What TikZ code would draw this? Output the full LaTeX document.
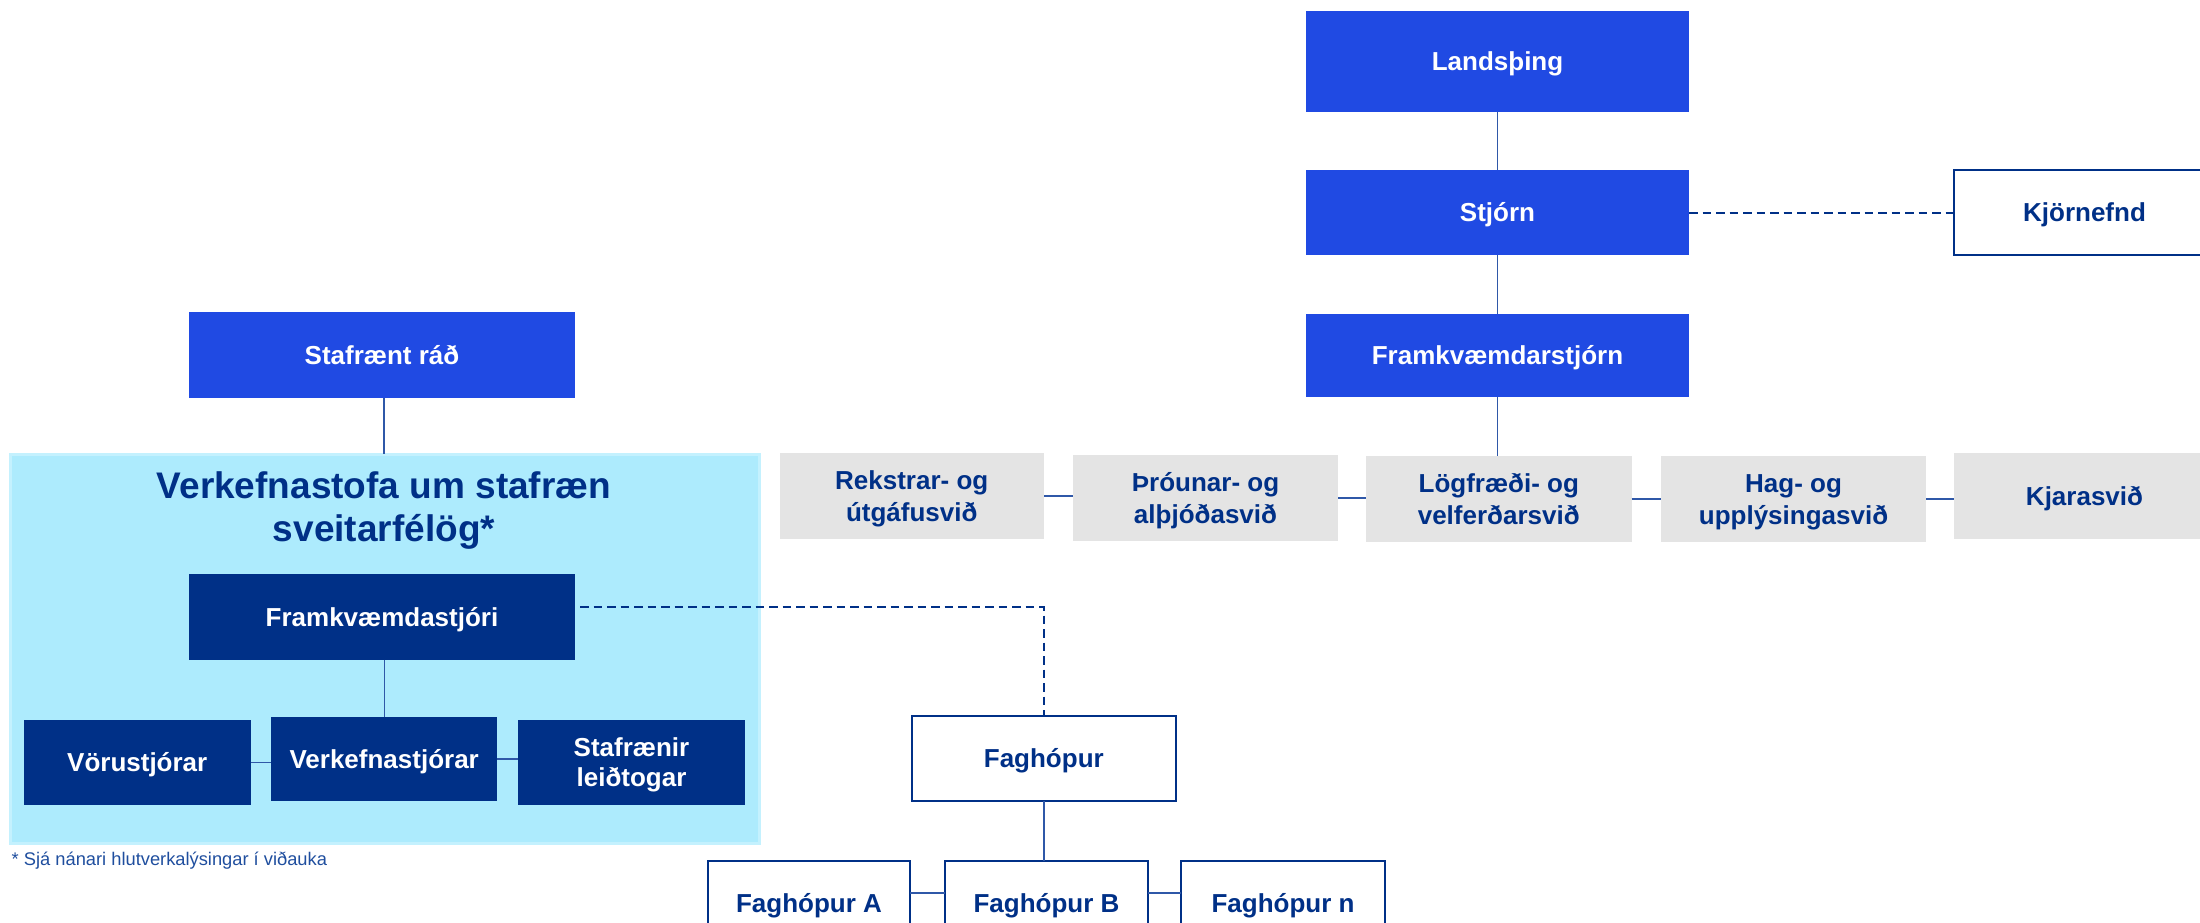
\documentclass[tikz,border=0pt]{standalone}
\usepackage{fontspec}
\setmainfont{Liberation Sans}
\definecolor{bright}{HTML}{204AE3}
\definecolor{navy}{HTML}{003087}
\definecolor{grayfill}{HTML}{E4E4E4}
\definecolor{lightfill}{HTML}{ADEBFD}
\definecolor{lightedge}{HTML}{C4F1FE}
\definecolor{linecol}{HTML}{2F58A8}
\definecolor{notecol}{HTML}{1F4E9E}
\newcommand{\twol}[3][32]{\raisebox{0pt}[18.6pt][#1pt]{\fontsize{26}{#1}\selectfont\bfseries\begin{tabular}[t]{@{}c@{}}#2\\#3\end{tabular}}}
\tikzset{
 box/.style={rectangle, inner sep=0pt, outer sep=0pt, align=center, font=\fontsize{26}{32}\selectfont\bfseries},
 brightbox/.style={box, fill=bright, text=white},
 navybox/.style={box, fill=navy, text=white},
 graybox/.style={box, fill=grayfill, text=navy},
 whitebox/.style={box, fill=white, draw=navy, line width=2pt, text=navy},
 oneline/.style={text height=18.8pt, text depth=0pt},
 conn/.style={draw=linecol, line width=1.5pt},
 dashconn/.style={draw=navy, line width=2pt, dash pattern=on 8.5pt off 5pt},
}
\begin{document}
\begin{tikzpicture}[x=1pt,y=-1pt]
\useasboundingbox (0,0) rectangle (2200,923);
\clip (0,0) rectangle (2200,923);

% light blue container
\node[draw=lightedge, fill=lightfill, line width=3pt, inner sep=0pt, outer sep=0pt,
      minimum width=749pt, minimum height=389pt] (vsbox) at (384.5,648.5) {};
\node[inner sep=0pt, align=center, text=navy, font=\fontsize{37}{43}\selectfont\bfseries]
      (vstitle) at (384,510.5) {Verkefnastofa um stafræn\\sveitarfélög*};

% right hierarchy
\node[brightbox, oneline, minimum width=383pt, minimum height=101pt] (lands) at (1497.5,61.5) {Landsþing};
\node[brightbox, oneline, minimum width=383pt, minimum height=85pt] (stjorn) at (1497.5,212.5) {Stjórn};
\node[whitebox, oneline, minimum width=261pt, minimum height=85pt] (kjor) at (2084.5,212.5) {Kjörnefnd};
\node[brightbox, oneline, minimum width=383pt, minimum height=83pt] (framstjorn) at (1497.5,355.5) {Framkvæmdarstjórn};

\node[graybox, minimum width=264.5pt, minimum height=86pt] (rek) at (911.75,496) {\twol{Rekstrar- og}{útgáfusvið}};
\node[graybox, minimum width=265pt, minimum height=86pt] (throun) at (1205.5,498) {\twol{Þróunar- og}{alþjóðasvið}};
\node[graybox, minimum width=265.5pt, minimum height=86pt] (log) at (1498.75,499) {\twol{Lögfræði- og}{velferðarsvið}};
\node[graybox, minimum width=265pt, minimum height=86pt] (hag) at (1793.5,499) {\twol{Hag- og}{upplýsingasvið}};
\node[graybox, oneline, minimum width=261pt, minimum height=86pt] (kjara) at (2084.5,496) {Kjarasvið};

% left hierarchy
\node[brightbox, oneline, minimum width=386pt, minimum height=86pt] (stafraent) at (382,355) {Stafrænt ráð};
\node[navybox, oneline, minimum width=386pt, minimum height=85.5pt] (fstjori) at (382,616.75) {Framkvæmdastjóri};
\node[navybox, oneline, minimum width=226.5pt, minimum height=84.6pt] (voru) at (137.25,762.3) {Vörustjórar};
\node[navybox, oneline, minimum width=226.4pt, minimum height=84.4pt] (verk) at (384.2,759.2) {Verkefnastjórar};
\node[navybox, minimum width=227pt, minimum height=84.6pt] (stafl) at (631.5,762.3) {\twol[30.5]{Stafrænir}{leiðtogar}};

% faghópar
\node[whitebox, oneline, minimum width=264.4pt, minimum height=85pt] (fag) at (1043.8,758.5) {Faghópur};
\node[whitebox, oneline, minimum width=202pt, minimum height=85pt] (fagA) at (809,903.5) {Faghópur A};
\node[whitebox, oneline, minimum width=203pt, minimum height=85pt] (fagB) at (1046.5,903.5) {Faghópur B};
\node[whitebox, oneline, minimum width=204pt, minimum height=85pt] (fagn) at (1283,903.5) {Faghópur n};

% footnote
\node[anchor=base west, inner sep=0pt, text=notecol, font=\fontsize{18.3}{22}\selectfont]
      (note) at (11.5,865) {* Sjá nánari hlutverkalýsingar í viðauka};

% connectors
\draw[conn] (lands.south) -- (stjorn.north);
\draw[conn] (stjorn.south) -- (framstjorn.north);
\draw[dashconn] (stjorn.east) -- (kjor.west);
\draw[conn] (framstjorn.south) -- (framstjorn.south |- log.north);
\draw[conn] (rek.east) -- (rek.east -| throun.west);
\draw[conn] (throun.east) -- (throun.east -| log.west);
\draw[conn] (log.east) -- (log.east -| hag.west);
\draw[conn] (hag.east) -- (hag.east -| kjara.west);

\draw[conn] ([xshift=2pt]stafraent.south) -- ([xshift=2pt]stafraent.south |- vsbox.north);
\draw[conn] ([xshift=2.5pt]fstjori.south) -- ([xshift=2.5pt]fstjori.south |- verk.north);
\draw[conn] (voru.east) -- (voru.east -| verk.west);
\draw[conn] (verk.east) -- (verk.east -| stafl.west);

\coordinate (dstart) at (580,607);
\coordinate (dcorner) at (1043.8,607);
\draw[dashconn] (dstart) -- (dcorner) -- (fag.north);

\draw[conn] (fag.south) -- (fag.south |- fagB.north);
\draw[conn] ([yshift=10.5pt]fagA.east) -- ([yshift=10.5pt]fagA.east -| fagB.west);
\draw[conn] ([yshift=10.5pt]fagB.east) -- ([yshift=10.5pt]fagB.east -| fagn.west);
\end{tikzpicture}
\end{document}
